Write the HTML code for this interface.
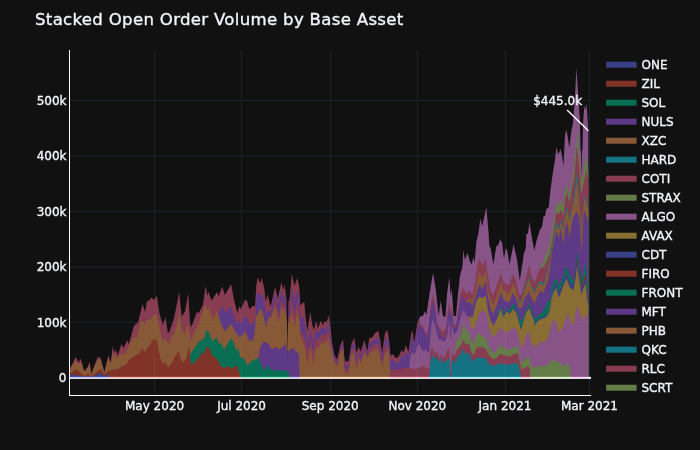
<!DOCTYPE html>
<html><head><meta charset="utf-8"><title>Stacked Open Order Volume by Base Asset</title>
<style>html,body{margin:0;padding:0;background:#111111;}body{width:700px;height:450px;overflow:hidden;}svg{display:block;}text{font-family:"DejaVu Sans","Liberation Sans",sans-serif;fill:#f2f5fa;stroke:#f2f5fa;stroke-width:0.35px;}</style></head><body>
<svg width="700" height="450" viewBox="0 0 700 450">
<rect width="700" height="450" fill="#111111"/>
<defs><clipPath id="sil"><path d="M70.0,379.6L70.0,368.1L72.9,363.1L75.7,357.1L78.6,362.4L80.7,358.6L84.3,371.0L87.9,366.7L89.6,361.4L91.4,374.6L93.6,367.4L97.9,356.7L100.7,358.1L104.3,372.4L108.3,355.3L110.7,362.4L112.9,346.0L114.6,353.1L115.7,349.6L117.9,355.3L121.4,343.9L123.6,348.1L127.1,340.3L128.9,343.9L133.6,326.7L135.7,323.9L137.9,323.1L142.6,304.0L145.0,312.1L147.1,300.7L149.3,300.7L151.1,297.4L154.0,300.0L156.9,295.7L159.3,312.9L162.9,325.0L165.4,317.1L167.9,332.9L169.3,332.1L173.6,320.0L179.3,292.1L181.7,316.4L185.0,311.4L188.3,292.9L190.0,322.9L191.4,327.1L197.1,311.4L198.6,313.6L202.9,305.0L205.7,285.7L207.4,295.7L208.6,291.4L211.4,300.7L217.1,292.1L218.6,296.4L222.1,286.4L225.0,295.0L228.6,288.6L231.1,284.3L234.3,300.7L237.4,312.9L239.3,305.7L240.7,309.3L245.0,300.0L247.1,300.7L249.3,309.3L252.9,305.7L255.0,306.4L256.4,284.3L257.9,277.1L260.0,283.6L261.7,277.9L264.3,288.6L265.7,302.1L267.4,294.3L270.7,306.4L275.0,287.1L277.9,298.6L281.4,282.1L283.1,290.0L284.6,285.0L286.4,298.6L289.3,301.4L291.9,273.6L294.3,285.7L297.4,277.9L299.3,287.1L300.4,305.7L302.1,303.6L304.3,302.1L305.7,318.6L307.4,331.4L310.3,311.4L312.1,324.3L314.0,330.0L316.0,320.7L317.9,328.6L320.7,320.7L322.9,325.0L325.0,320.7L326.4,322.9L328.9,315.0L330.3,325.7L332.1,343.1L334.3,355.3L337.1,359.6L340.7,343.9L343.1,339.6L344.3,357.4L345.7,361.7L348.6,361.0L351.4,343.9L354.3,337.4L356.4,353.1L358.6,346.7L360.7,351.7L364.3,340.3L367.4,351.0L369.3,338.1L372.1,337.4L375.7,332.4L378.3,331.0L380.0,338.9L382.1,353.1L385.0,333.1L387.4,330.0L389.3,341.7L390.7,356.0L392.9,353.9L395.7,358.1L398.6,356.7L401.4,350.3L403.6,352.4L405.7,345.3L408.6,351.7L410.3,338.9L412.1,329.6L414.3,342.4L417.1,324.6L420.0,316.5L422.9,316.0L425.0,311.3L426.4,314.9L429.3,294.9L433.1,272.7L435.7,289.1L438.6,316.0L440.7,300.6L442.9,316.0L445.4,317.0L447.1,293.4L449.3,277.0L450.7,296.3L451.7,288.4L453.6,316.0L456.0,316.0L457.9,294.9L460.0,275.6L462.5,266.3L463.3,250.0L465.0,260.0L467.4,252.9L470.0,261.4L471.5,264.5L473.6,257.1L474.6,262.9L476.4,241.4L478.3,233.6L480.4,218.6L482.1,226.4L486.4,207.1L488.6,232.9L489.3,245.7L490.7,248.6L493.4,264.5L496.4,245.7L497.9,245.7L500.3,239.3L502.1,242.9L504.0,258.6L505.7,248.6L507.1,250.0L509.5,264.0L513.6,244.3L517.1,260.0L519.8,280.5L522.9,260.6L523.6,254.3L525.7,248.6L526.4,234.3L527.9,233.6L529.6,222.5L532.1,239.0L534.4,250.4L536.4,240.9L540.0,229.4L542.1,226.6L543.6,215.9L545.0,215.9L546.4,208.7L548.6,208.0L550.7,188.0L552.9,172.6L555.0,159.5L556.5,147.0L558.2,154.5L560.6,149.0L562.0,156.0L563.5,166.0L565.0,135.0L566.5,129.8L569.4,147.6L571.5,129.8L572.9,124.0L574.8,100.4L576.4,67.9L578.6,100.4L579.2,110.0L580.2,124.0L580.6,150.0L581.5,153.0L582.4,150.0L583.0,124.0L584.3,105.8L585.4,109.8L586.5,103.5L587.9,124.0L588.3,130.8L588.3,379.6 Z"/></clipPath></defs>
<g fill="#1c2229"><rect x="154" y="50" width="1" height="345" /><rect x="241" y="50" width="1" height="345" /><rect x="330" y="50" width="1" height="345" /><rect x="417" y="50" width="1" height="345" /><rect x="505" y="50" width="1" height="345" /><rect x="589" y="50" width="1" height="345" /><rect x="70" y="100.00" width="521" height="1" /><rect x="70" y="155.45" width="521" height="1" /><rect x="70" y="210.90" width="521" height="1" /><rect x="70" y="266.40" width="521" height="1" /><rect x="70" y="321.85" width="521" height="1" /></g>
<g id="lay" stroke="none">
<path fill="#885488" d="M417.1,379.6L417.1,324.6L420.0,316.5L422.9,316.0L425.0,311.3L426.4,314.9L429.3,294.9L433.1,272.7L435.7,289.1L438.6,316.0L440.7,300.6L442.9,316.0L445.4,317.0L447.1,293.4L449.3,277.0L450.7,296.3L451.7,288.4L453.6,316.0L456.0,316.0L457.9,294.9L460.0,275.6L462.5,266.3L463.3,250.0L465.0,260.0L467.4,252.9L470.0,261.4L471.5,264.5L473.6,257.1L474.6,262.9L476.4,241.4L478.3,233.6L480.4,218.6L482.1,226.4L486.4,207.1L488.6,232.9L489.3,245.7L490.7,248.6L493.4,264.5L496.4,245.7L497.9,245.7L500.3,239.3L502.1,242.9L504.0,258.6L505.7,248.6L507.1,250.0L509.5,264.0L513.6,244.3L517.1,260.0L519.8,280.5L522.9,260.6L523.6,254.3L525.7,248.6L526.4,234.3L527.9,233.6L529.6,222.5L532.1,239.0L534.4,250.4L536.4,240.9L540.0,229.4L542.1,226.6L543.6,215.9L545.0,215.9L546.4,208.7L548.6,208.0L550.7,188.0L552.9,172.6L555.0,159.5L556.5,147.0L558.2,154.5L560.6,149.0L562.0,156.0L563.5,166.0L565.0,135.0L566.5,129.8L569.4,147.6L571.5,129.8L572.9,124.0L574.8,100.4L576.4,67.9L578.6,100.4L579.2,110.0L580.2,124.0L580.6,150.0L581.5,153.0L582.4,150.0L583.0,124.0L584.3,105.8L585.4,109.8L586.5,103.5L587.9,124.0L588.3,130.8L588.3,379.6 Z"/>
<path fill="#647c48" d="M539.0,379.6L539.0,270.0L540.0,269.0L541.4,264.9L543.6,262.0L545.0,256.3L547.1,252.0L549.3,245.1L552.0,232.0L555.0,213.7L556.4,200.9L557.9,207.3L560.0,199.4L562.9,206.6L565.0,190.9L566.8,184.0L569.5,196.0L571.5,181.0L573.6,170.0L575.2,153.0L576.5,130.5L578.2,146.0L579.4,153.0L580.3,166.0L581.5,182.0L583.5,173.0L586.3,156.0L588.3,170.0L588.3,379.6 Z"/>
<path fill="#883c52" d="M70.0,379.6L70.0,368.1L72.9,363.1L75.7,357.1L78.6,362.4L80.7,358.6L84.3,371.0L87.9,366.7L89.6,361.4L91.4,374.6L93.6,367.4L97.9,356.7L100.7,358.1L104.3,372.4L108.3,355.3L110.7,362.4L112.9,346.0L114.6,353.1L115.7,349.6L117.9,355.3L121.4,343.9L123.6,348.1L127.1,340.3L128.9,343.9L133.6,326.7L135.7,323.9L137.9,323.1L142.6,304.0L145.0,312.1L147.1,300.7L149.3,300.7L151.1,297.4L154.0,300.0L156.9,295.7L159.3,312.9L162.9,325.0L165.4,317.1L167.9,332.9L169.3,332.1L173.6,320.0L179.3,292.1L181.7,316.4L185.0,311.4L188.3,292.9L190.0,322.9L191.4,327.1L197.1,311.4L198.6,313.6L202.9,305.0L205.7,285.7L207.4,295.7L208.6,291.4L211.4,300.7L217.1,292.1L218.6,296.4L222.1,286.4L225.0,295.0L228.6,288.6L231.1,284.3L234.3,300.7L237.4,312.9L239.3,305.7L240.7,309.3L245.0,300.0L247.1,300.7L249.3,309.3L252.9,305.7L255.0,306.4L256.4,284.3L257.9,277.1L260.0,283.6L261.7,277.9L264.3,288.6L265.7,302.1L267.4,294.3L270.7,306.4L275.0,287.1L277.9,298.6L281.4,282.1L283.1,290.0L284.6,285.0L286.4,298.6L289.3,301.4L291.9,273.6L294.3,285.7L297.4,277.9L299.3,287.1L300.4,305.7L302.1,303.6L304.3,302.1L305.7,318.6L307.4,331.4L310.3,311.4L312.1,324.3L314.0,330.0L316.0,320.7L317.9,328.6L320.7,320.7L322.9,325.0L325.0,320.7L326.4,322.9L328.9,315.0L330.3,325.7L332.1,343.1L334.3,355.3L337.1,359.6L340.7,343.9L343.1,339.6L344.3,357.4L345.7,361.7L348.6,361.0L351.4,343.9L354.3,337.4L356.4,353.1L358.6,346.7L360.7,351.7L364.3,340.3L367.4,351.0L369.3,338.1L372.1,337.4L375.7,332.4L378.3,331.0L380.0,338.9L382.1,353.1L385.0,333.1L387.4,330.0L389.3,341.7L390.7,356.0L392.9,353.9L395.7,358.1L398.6,356.7L401.4,350.3L403.6,352.4L405.7,345.3L408.6,351.7L410.3,338.9L412.1,329.6L414.3,342.4L417.1,324.6L419.5,319.5L420.9,324.4L423.4,326.6L425.1,331.6L426.9,334.4L428.7,327.3L429.5,315.0L431.0,303.0L433.0,293.0L435.0,303.0L436.3,314.0L436.8,322.3L438.7,326.0L441.6,330.5L445.0,330.5L446.5,325.0L447.8,312.0L449.0,299.0L450.3,312.0L451.7,305.0L452.8,316.0L453.6,325.0L456.0,325.0L457.9,312.0L460.0,295.0L463.1,287.3L466.2,293.5L469.3,290.4L472.4,295.1L475.6,281.1L477.1,265.6L479.4,259.3L482.6,265.6L485.7,258.6L488.0,276.4L491.1,292.8L493.4,295.1L497.3,283.4L500.7,273.3L503.5,282.7L506.7,283.4L509.0,285.8L512.9,274.1L516.0,281.1L519.1,295.1L521.4,295.1L525.3,281.1L529.2,264.0L531.5,276.4L534.6,282.7L537.8,273.3L540.0,268.7L541.4,268.0L543.6,267.0L545.7,263.4L547.9,257.7L550.0,252.0L552.0,241.0L555.0,222.3L556.4,210.9L558.6,214.4L560.7,209.4L563.6,215.1L565.0,199.4L567.1,192.3L569.6,203.7L571.4,190.9L574.5,176.0L576.7,146.0L578.5,160.0L579.7,172.0L581.3,195.0L583.0,185.0L584.5,180.0L586.2,169.0L588.3,183.0L588.3,379.6 Z"/>
<path fill="#157282" d="M519.1,379.6L519.1,301.1L521.4,300.3L525.3,285.5L529.2,276.2L531.5,285.5L534.6,291.7L537.8,283.2L541.4,280.9L543.6,284.5L545.7,275.9L547.9,268.8L550.0,256.5L552.1,244.4L555.0,228.3L556.4,222.5L558.6,227.5L560.7,219.7L563.6,228.3L565.0,214.0L567.1,207.5L569.6,219.0L572.9,202.5L575.0,188.0L576.5,173.0L578.6,188.1L580.0,207.4L581.5,232.4L583.0,209.4L584.3,195.4L587.1,202.5L588.3,207.4L588.3,379.6 Z"/>
<path fill="#885936" d="M465.5,379.6L465.5,301.5L466.2,302.3L469.3,298.3L472.4,301.0L475.6,290.4L477.1,279.5L479.4,271.8L482.6,278.8L485.7,269.4L488.0,288.9L491.1,301.3L493.4,304.4L497.3,294.3L500.7,281.9L503.5,290.4L506.7,292.0L509.0,294.3L512.9,283.4L516.0,289.7L519.1,302.9L521.4,302.1L525.3,287.3L529.2,278.0L531.5,287.3L534.6,293.5L537.8,285.0L541.4,282.7L543.6,286.3L545.7,277.7L547.9,270.6L550.0,259.1L552.1,247.0L555.0,230.9L556.4,225.1L558.6,230.1L560.7,222.3L563.6,230.9L565.0,216.6L567.1,210.1L569.6,221.6L572.9,205.1L575.0,195.0L576.5,180.0L578.6,195.1L580.0,210.0L581.5,235.0L583.0,212.0L584.3,198.0L587.1,205.1L588.3,210.0L588.3,379.6 Z"/>
<path fill="#5e3a86" d="M218.3,379.6L218.3,315.0L218.6,312.9L222.1,305.7L225.7,312.9L230.0,306.4L232.1,309.3L234.3,317.1L237.4,324.3L239.3,320.0L241.4,323.6L245.0,315.7L247.9,319.3L250.0,325.0L253.6,322.1L255.4,320.0L256.4,295.7L258.6,291.4L260.7,296.4L262.1,293.6L264.3,303.6L266.0,317.1L267.9,310.0L270.7,312.9L275.0,292.1L277.9,307.1L281.4,289.3L283.1,298.6L284.6,293.6L286.6,307.1L289.3,312.9L292.1,287.1L294.5,302.0L297.5,290.0L299.2,299.5L300.7,318.6L303.6,317.1L305.7,327.1L306.4,334.6L308.3,344.6L310.3,328.9L313.6,344.6L315.7,330.3L317.9,333.1L322.1,327.4L325.7,328.9L328.6,323.1L331.4,340.3L334.3,354.6L337.9,362.4L340.0,358.9L340.5,347.8L341.0,346.4L341.5,345.6L342.0,344.7L342.5,343.9L343.0,343.1L343.5,349.2L344.0,357.0L344.5,362.2L345.0,363.7L345.5,365.1L346.0,365.6L346.5,365.5L347.0,365.3L347.5,365.1L348.0,365.0L348.5,364.8L349.0,362.3L349.5,359.2L350.0,356.1L350.5,353.0L351.0,349.9L351.5,347.3L352.0,346.4L352.5,345.5L353.0,344.6L353.5,343.8L354.0,342.9L354.5,343.9L355.0,347.8L355.5,351.7L356.0,355.6L356.5,358.4L357.0,356.4L357.5,354.5L358.0,352.6L358.5,350.6L359.0,351.3L359.5,352.7L360.0,354.0L360.5,355.4L361.0,355.0L361.5,353.3L362.0,351.7L362.5,350.0L363.0,348.4L363.5,346.7L364.0,345.1L364.5,344.7L365.0,346.2L365.5,347.7L366.0,349.2L366.5,350.6L367.0,352.1L367.5,352.8L368.0,350.2L368.5,347.6L369.0,345.0L369.5,343.3L370.0,342.9L370.5,342.7L371.0,342.5L371.5,342.3L372.0,342.1L372.5,341.5L373.0,340.9L373.5,340.3L374.0,339.7L374.5,339.2L375.0,338.7L375.5,338.3L376.0,338.0L376.5,337.8L377.0,337.6L377.5,337.4L378.0,337.3L378.5,338.4L379.0,340.4L379.5,342.5L380.0,344.5L380.5,347.6L381.0,350.8L381.5,353.9L382.0,357.0L382.5,355.1L383.0,352.0L383.5,349.0L384.0,345.9L384.5,342.8L385.0,339.7L385.5,339.0L386.0,338.4L386.5,337.7L387.0,337.0L387.5,337.0L388.0,339.6L388.5,342.2L389.0,344.8L389.5,349.1L390.0,354.3L390.5,359.5L391.0,361.2L391.5,360.7L392.0,360.3L392.5,359.8L393.0,359.6L393.5,360.3L394.0,361.1L394.5,361.8L395.0,362.6L395.5,363.3L396.0,363.5L396.5,363.2L397.0,363.0L397.5,362.7L398.0,362.5L398.5,362.2L399.0,361.3L399.5,360.1L400.0,359.0L400.5,357.9L401.0,356.7L401.5,355.9L402.0,356.4L402.5,356.9L403.0,357.3L403.5,357.8L404.0,356.5L404.5,354.9L405.0,353.2L405.5,351.5L406.0,351.5L406.5,352.6L407.0,353.7L407.5,354.6L408.0,355.6L408.5,356.6L409.0,353.7L409.5,349.8L410.0,345.9L410.5,342.5L411.0,339.8L411.5,337.2L412.0,334.6L412.5,336.3L413.0,339.2L413.5,342.1L414.0,345.0L414.5,345.4L415.0,342.2L415.5,339.0L416.0,335.8L416.5,332.6L417.0,329.4L417.5,327.6L418.0,326.2L418.5,324.8L419.0,323.3L419.5,323.5L420.9,327.5L423.4,329.3L425.1,333.8L426.9,336.6L428.7,329.5L429.5,318.0L431.0,308.0L433.0,300.0L435.0,309.0L436.3,318.0L436.8,325.0L438.7,329.0L441.6,337.0L445.0,338.0L446.5,329.0L447.8,316.0L449.0,305.0L450.3,318.0L451.7,311.0L452.8,321.0L453.6,328.0L456.0,328.5L457.9,317.0L460.0,301.3L463.1,295.1L466.2,302.9L469.3,301.3L472.4,306.0L475.6,296.7L477.1,290.4L479.4,284.2L482.6,288.9L485.7,280.3L488.0,297.4L491.1,310.7L493.4,313.8L497.3,303.7L500.7,292.0L503.5,299.8L506.7,301.3L509.0,302.9L512.9,292.8L516.0,298.2L519.1,308.3L521.4,308.3L525.3,297.4L529.2,291.2L531.5,298.2L534.6,303.7L537.8,295.1L541.4,290.6L543.6,293.4L545.7,286.3L547.9,280.6L550.0,266.3L552.1,252.0L555.0,236.6L556.4,230.9L558.6,237.3L560.7,228.7L563.6,243.7L565.0,229.4L567.1,221.6L569.6,237.3L572.9,218.0L576.4,211.6L578.6,215.0L580.0,225.0L581.5,255.0L583.0,225.0L584.3,209.4L587.1,218.7L588.3,222.0L588.3,379.6 Z"/>
<path fill="#086e54" d="M497.0,379.6L497.0,318.0L498.1,312.2L500.7,306.0L503.5,313.8L506.7,308.3L509.8,310.0L512.9,302.9L516.0,307.5L519.1,316.9L521.2,322.0L525.3,310.7L529.2,303.7L531.5,310.7L534.6,318.4L537.0,317.0L540.0,314.0L542.9,312.0L547.1,302.7L550.0,299.1L551.4,289.1L553.6,282.0L556.4,278.4L558.6,286.3L561.4,280.6L563.6,274.9L566.0,266.3L570.0,276.3L573.6,280.6L575.4,269.1L577.1,252.0L579.3,267.7L581.4,280.6L583.6,273.4L585.3,262.0L587.1,280.6L588.3,285.0L588.3,379.6 Z"/>
<path fill="#803326" d="M573.6,379.6L573.6,283.7L575.4,272.1L577.1,258.6L579.3,271.9L581.4,285.9L583.6,278.7L585.7,275.1L587.1,290.1L588.3,296.0L588.3,379.6 Z"/>
<path fill="#3a4086" d="M500.7,379.6L500.7,307.5L503.5,315.3L506.7,309.8L509.8,312.2L512.9,307.4L516.0,310.5L518.3,318.3L521.1,328.6L523.8,318.3L526.1,310.5L529.2,306.6L531.5,313.6L533.9,318.3L534.3,324.3L537.0,320.2L541.0,317.2L545.0,316.2L548.0,313.2L550.0,306.4L551.4,295.7L553.6,287.6L556.4,282.2L558.6,292.2L561.4,285.8L563.6,279.4L566.4,272.9L570.0,282.2L573.6,284.4L575.4,273.6L577.1,260.8L579.3,275.1L581.4,289.4L583.6,282.2L585.7,278.6L587.1,293.6L588.3,299.5L588.3,379.6 Z"/>
<path fill="#886e32" d="M468.0,379.6L468.0,318.5L470.0,316.0L472.4,318.0L474.0,312.0L475.6,304.4L477.1,299.8L479.4,296.7L482.6,298.2L485.7,295.1L488.0,310.7L490.3,320.0L493.5,326.0L496.5,320.0L500.7,309.1L503.5,316.9L506.7,311.4L509.8,313.8L512.9,309.1L516.0,312.2L518.3,320.0L521.1,330.3L523.8,320.0L526.1,312.2L529.2,308.3L531.5,315.3L533.9,320.0L534.3,326.0L537.0,322.0L541.0,319.0L545.0,318.0L548.0,315.0L550.0,309.1L551.4,299.1L553.6,292.0L556.4,287.7L558.6,297.7L561.4,291.3L563.6,284.9L566.4,278.4L570.0,287.7L573.6,289.9L575.4,279.1L577.1,266.3L579.3,280.6L581.4,294.9L583.6,287.7L585.7,284.1L587.1,299.1L588.3,305.0L588.3,379.6 Z"/>
<path fill="#885488" d="M409.3,379.6L409.3,368.9L410.0,357.4L412.1,351.7L414.3,355.3L417.1,346.7L419.3,343.9L421.4,349.6L423.6,351.5L425.7,349.5L427.9,352.5L429.3,351.5L430.3,336.0L431.5,325.0L432.6,319.4L435.1,325.0L436.6,332.3L438.7,339.4L440.9,339.6L443.0,341.6L445.1,340.9L446.9,335.9L448.0,328.7L449.1,323.7L449.8,320.0L450.3,338.0L451.1,338.0L451.7,321.0L452.5,327.0L454.3,335.0L457.1,331.0L459.3,323.0L461.0,316.0L463.0,310.0L466.2,315.0L469.3,318.9L471.4,327.4L473.6,329.6L476.4,321.7L477.9,316.0L480.0,312.0L483.0,311.0L486.0,312.0L487.1,316.0L489.3,328.9L492.9,336.7L497.1,333.1L500.0,326.7L503.6,331.0L507.1,332.4L510.7,329.6L513.6,327.4L517.1,330.3L519.3,340.3L521.4,347.4L523.6,343.1L526.4,333.9L529.3,331.7L530.7,341.0L534.3,347.4L537.9,343.9L540.7,341.0L542.9,343.1L545.7,341.0L547.9,337.4L550.0,330.3L552.1,321.7L554.3,319.6L556.4,323.1L558.6,332.4L562.9,327.4L565.0,320.3L567.1,316.0L568.5,314.0L570.0,320.3L573.6,326.0L575.0,316.0L577.0,305.0L579.0,312.0L581.4,317.4L583.6,318.9L585.4,316.0L587.4,314.0L588.3,316.0L588.3,379.6 Z"/>
<path fill="#647c48" d="M455.0,379.6L455.0,351.7L456.4,343.1L458.6,337.4L461.4,334.6L463.6,323.1L465.7,328.9L469.3,333.1L471.4,341.0L473.6,343.9L476.4,335.3L478.6,333.1L482.9,336.7L485.7,337.4L488.6,346.0L492.9,353.9L497.1,350.3L500.0,345.3L504.3,348.1L508.6,350.3L514.3,346.7L517.9,346.0L520.0,358.9L521.4,363.1L526.4,357.4L529.3,356.7L530.7,366.0L535.7,367.4L540.7,365.3L542.9,366.7L547.1,365.3L550.7,361.7L553.6,358.9L556.4,362.4L559.3,361.7L562.9,366.7L566.4,363.1L569.3,366.0L570.7,377.0L570.7,379.6 Z"/>
<path fill="#883c52" d="M268.0,379.6L268.0,318.0L270.7,316.0L273.0,308.0L275.0,300.5L276.0,301.0L278.5,317.0L281.5,300.0L283.0,302.0L284.5,304.0L286.3,314.0L289.5,317.0L292.0,298.0L294.5,314.0L297.5,300.0L299.0,307.0L300.0,322.0L300.7,331.7L303.6,336.0L306.4,343.0L308.3,351.7L310.3,337.4L313.6,352.4L315.7,338.9L317.9,340.0L322.1,333.9L325.7,335.0L328.6,329.6L331.4,344.6L334.3,358.9L337.9,364.8L340.0,361.0L340.5,350.8L341.0,349.5L341.5,348.7L342.0,347.9L342.5,347.1L343.0,346.4L343.5,352.8L344.0,361.0L344.5,366.5L345.0,367.8L345.5,369.2L346.0,369.6L346.5,369.4L347.0,369.2L347.5,369.0L348.0,368.8L348.5,368.6L349.0,366.0L349.5,362.9L350.0,359.7L350.5,356.6L351.0,353.5L351.5,350.8L352.0,350.2L352.5,349.6L353.0,348.9L353.5,348.3L354.0,347.7L354.5,348.9L355.0,353.0L355.5,357.1L356.0,361.2L356.5,364.0L357.0,361.5L357.5,359.1L358.0,356.7L358.5,354.2L359.0,355.0L359.5,356.5L360.0,358.1L360.5,359.6L361.0,359.2L361.5,357.5L362.0,355.7L362.5,354.0L363.0,352.3L363.5,350.6L364.0,348.9L364.5,348.3L365.0,349.6L365.5,350.9L366.0,352.1L366.5,353.4L367.0,354.7L367.5,355.3L368.0,353.5L368.5,351.8L369.0,350.0L369.5,348.6L370.0,347.9L370.5,347.6L371.0,347.3L371.5,347.0L372.0,346.7L372.5,346.2L373.0,345.7L373.5,345.2L374.0,344.7L374.5,344.3L375.0,344.1L375.5,343.8L376.0,343.7L376.5,343.6L377.0,343.5L377.5,343.4L378.0,343.5L378.5,344.8L379.0,346.6L379.5,348.4L380.0,350.2L380.5,353.0L381.0,355.8L381.5,358.7L382.0,361.5L382.5,359.9L383.0,357.2L383.5,354.5L384.0,351.7L384.5,349.0L385.0,346.3L385.5,345.6L386.0,344.9L386.5,344.2L387.0,343.5L387.5,343.4L388.0,345.5L388.5,347.7L389.0,349.8L389.5,354.5L390.0,370.3L394.3,369.6L401.4,369.1L404.3,367.4L410.0,368.1L415.7,369.6L421.4,366.7L424.3,366.0L427.9,368.9L429.5,368.0L430.3,351.7L432.1,346.7L435.0,354.6L437.1,351.0L439.3,358.9L440.7,353.9L442.9,358.1L445.7,354.6L449.3,346.7L450.3,371.7L451.1,371.0L451.7,353.1L454.3,356.0L457.1,348.9L461.4,344.6L463.6,339.6L465.7,344.6L469.3,343.9L471.4,351.7L473.6,355.3L476.4,347.4L481.4,346.7L485.7,348.9L488.6,354.6L492.9,359.6L497.1,357.4L500.0,353.9L504.3,355.3L510.0,356.7L514.3,353.9L517.9,353.1L520.0,363.1L521.4,370.3L526.4,366.7L529.3,366.7L530.3,377.0L530.3,379.6 Z"/>
<path fill="#157282" d="M429.3,379.6L429.3,377.0L430.3,363.1L432.1,354.6L435.0,358.9L437.1,357.4L439.3,362.4L440.7,356.7L442.9,363.1L445.7,361.7L449.3,357.4L450.3,377.0L451.1,377.0L451.7,358.9L454.3,363.1L457.1,357.4L461.4,353.1L463.6,348.9L465.7,353.9L469.3,353.1L471.4,358.9L473.6,361.7L476.4,357.4L481.4,358.1L485.7,358.1L488.6,363.1L492.9,366.0L497.1,364.6L500.0,363.1L504.3,364.6L510.0,364.6L514.3,363.1L517.9,363.9L520.0,371.7L521.0,377.0L521.0,379.6 Z"/>
<path fill="#885936" d="M70.0,379.6L70.0,369.6L75.7,360.3L78.6,364.6L80.7,361.7L84.3,371.7L87.9,367.5L89.6,363.9L91.4,374.8L93.6,368.5L97.9,358.9L100.7,360.3L104.3,372.6L108.3,358.1L110.7,363.3L112.9,351.7L115.7,357.4L117.9,358.1L121.4,353.1L125.0,354.6L127.1,350.3L130.0,344.6L133.6,337.4L136.4,338.1L140.0,324.6L142.6,320.0L145.4,325.0L147.1,318.6L150.0,320.7L153.6,315.0L156.9,314.3L159.3,326.0L162.9,342.4L165.0,337.4L167.1,342.4L170.0,342.4L171.4,336.0L174.3,334.0L177.1,322.9L179.3,312.1L181.7,330.0L185.0,333.9L187.4,323.9L188.9,329.6L190.7,341.7L192.9,335.3L195.7,329.6L199.3,323.1L200.0,318.6L202.9,311.4L205.7,303.6L207.1,310.0L208.6,307.1L212.9,319.3L217.1,310.7L219.3,317.8L221.4,324.8L225.0,331.4L227.1,329.0L230.7,324.0L233.6,328.0L236.4,333.5L240.0,337.4L242.9,334.6L245.7,331.5L249.3,341.7L251.4,338.9L252.9,342.4L255.0,330.3L255.7,317.1L260.7,308.6L262.9,313.6L266.0,327.5L268.6,317.1L270.7,318.6L275.0,307.0L276.0,308.0L278.5,322.5L281.5,306.5L283.0,310.0L284.5,310.0L286.3,318.0L289.5,324.0L292.0,310.0L294.5,327.0L297.5,311.0L299.0,318.0L300.0,330.0L300.7,336.0L303.6,343.1L305.7,352.4L307.4,365.3L310.3,346.0L313.6,365.3L315.7,348.9L317.9,348.1L322.1,342.4L325.7,343.1L328.6,337.4L330.0,348.1L332.1,353.1L334.3,361.7L337.1,366.7L340.7,353.1L343.1,349.6L344.3,370.3L345.7,373.9L348.6,372.4L351.4,354.6L354.3,352.4L356.4,370.3L358.6,357.4L360.7,364.6L364.3,351.7L367.4,358.1L370.0,353.1L374.3,349.6L377.9,349.6L380.0,356.0L382.1,366.7L385.0,353.1L387.4,349.6L389.3,356.0L390.0,370.0L390.0,379.6 Z"/>
<path fill="#5e3a86" d="M258.6,379.6L258.6,358.9L260.0,347.4L263.6,341.7L267.9,343.1L272.1,349.6L275.7,346.7L278.6,349.6L282.9,346.7L285.4,343.9L286.9,351.0L289.3,351.0L292.9,347.4L296.4,351.7L298.9,353.9L299.7,377.0L299.7,379.6 Z"/>
<path fill="#086e54" d="M190.0,379.6L190.0,355.3L192.9,350.3L198.6,341.7L202.1,339.6L204.3,338.9L206.4,330.3L208.6,331.0L211.4,339.6L213.6,341.0L216.4,336.7L218.6,343.1L221.4,343.9L224.3,349.6L227.9,343.1L231.4,338.1L234.3,343.9L236.4,351.0L238.3,348.1L240.0,356.7L244.3,358.9L247.1,365.3L252.9,360.3L257.9,358.1L260.0,361.7L264.3,371.0L267.9,365.3L272.1,371.0L277.1,369.6L281.4,371.0L285.7,370.3L288.6,373.1L290.0,377.0L290.0,379.6 Z"/>
<path fill="#803326" d="M70.0,379.6L70.0,373.1L75.7,369.6L78.6,371.0L84.3,376.0L87.9,373.9L91.4,376.0L97.9,371.0L100.7,368.9L104.3,374.6L108.3,371.0L112.9,369.6L117.1,369.6L121.4,366.7L126.4,364.6L128.6,360.3L133.6,356.7L140.0,353.1L142.1,348.1L144.3,352.4L147.9,346.7L150.0,345.3L152.9,339.6L156.4,338.9L158.3,348.9L160.7,359.6L163.6,364.6L165.4,361.7L167.9,367.4L171.4,363.9L175.0,356.7L178.6,351.0L180.7,358.9L182.9,362.4L186.4,358.9L188.9,345.3L190.0,356.0L191.4,365.3L195.7,361.0L200.7,355.3L202.1,351.7L204.3,353.9L206.4,346.7L209.3,348.1L212.1,355.3L215.0,357.4L217.9,360.3L220.7,366.0L224.3,368.1L227.9,366.0L232.1,368.9L235.7,365.3L237.9,367.4L239.3,373.1L240.7,377.0L240.7,379.6 Z"/>
<path fill="#3a4086" d="M70.0,379.6L70.0,375.3L75.0,374.6L80.0,376.0L85.0,376.6L91.0,376.6L97.0,374.6L100.7,372.9L104.3,376.5L107.4,373.9L109.7,376.8L109.7,379.6 Z"/>
</g>
<path fill="#111111" d="M286.5,296 L287.3,340 L287.5,364 L287.7,340 L288.6,298 Z"/>
<path fill="#111111" d="M580.1,118 L580.8,140 L581.4,175 L581.6,175 L582.2,140 L583.0,118 Z"/>
<g clip-path="url(#sil)" fill="#9fc4ff" opacity="0.06"><rect x="154" y="50" width="1" height="345" /><rect x="241" y="50" width="1" height="345" /><rect x="330" y="50" width="1" height="345" /><rect x="417" y="50" width="1" height="345" /><rect x="505" y="50" width="1" height="345" /><rect x="589" y="50" width="1" height="345" /><rect x="70" y="100.00" width="521" height="1" /><rect x="70" y="155.45" width="521" height="1" /><rect x="70" y="210.90" width="521" height="1" /><rect x="70" y="266.40" width="521" height="1" /><rect x="70" y="321.85" width="521" height="1" /></g>
<rect x="69.5" y="377.9" width="522" height="2.6" fill="#111111"/>
<g fill="#1c2229"><rect x="154" y="378" width="1" height="4"/><rect x="241" y="378" width="1" height="4"/><rect x="330" y="378" width="1" height="4"/><rect x="417" y="378" width="1" height="4"/><rect x="505" y="378" width="1" height="4"/><rect x="589" y="378" width="1" height="4"/></g>
<rect x="70" y="377" width="521" height="1.85" fill="#ffffff"/>
<rect x="588.3" y="376.85" width="2.7" height="1" fill="#ffffff"/>
<rect x="70.0" y="376.85" width="39.7" height="1" fill="#b1b7fd"/>
<rect x="109.7" y="376.85" width="131.0" height="1" fill="#f7aa9d"/>
<rect x="240.7" y="376.85" width="49.3" height="1" fill="#7fe5cb"/>
<rect x="290.0" y="376.85" width="9.7" height="1" fill="#d5b1fd"/>
<rect x="299.7" y="376.85" width="90.3" height="1" fill="#ffd0ad"/>
<rect x="390.0" y="376.85" width="39.3" height="1" fill="#ffb3c9"/>
<rect x="429.3" y="376.85" width="21.0" height="1" fill="#8ce9f9"/>
<rect x="450.3" y="376.85" width="0.8" height="1" fill="#ffb3c9"/>
<rect x="451.1" y="376.85" width="69.9" height="1" fill="#8ce9f9"/>
<rect x="521.0" y="376.85" width="9.3" height="1" fill="#ffb3c9"/>
<rect x="530.3" y="376.85" width="40.4" height="1" fill="#dbf3bf"/>
<rect x="570.7" y="376.85" width="17.6" height="1" fill="#ffcbff"/>
<rect x="69" y="50" width="1" height="346" fill="#ffffff"/>
<rect x="69" y="395" width="522" height="1" fill="#ffffff"/>
<text x="35" y="25" font-size="16.6px" textLength="368.3" lengthAdjust="spacing">Stacked Open Order Volume by Base Asset</text>
<text x="66.5" y="104.8" font-size="12px" text-anchor="end">500k</text>
<text x="66.5" y="160.2" font-size="12px" text-anchor="end">400k</text>
<text x="66.5" y="215.7" font-size="12px" text-anchor="end">300k</text>
<text x="66.5" y="271.2" font-size="12px" text-anchor="end">200k</text>
<text x="66.5" y="326.7" font-size="12px" text-anchor="end">100k</text>
<text x="66.5" y="382.2" font-size="12px" text-anchor="end">0</text>
<text x="154.6" y="410" font-size="12px" text-anchor="middle">May 2020</text>
<text x="241.6" y="410" font-size="12px" text-anchor="middle">Jul 2020</text>
<text x="330.2" y="410" font-size="12px" text-anchor="middle">Sep 2020</text>
<text x="417.3" y="410" font-size="12px" text-anchor="middle">Nov 2020</text>
<text x="505.0" y="410" font-size="12px" text-anchor="middle">Jan 2021</text>
<text x="589.5" y="410" font-size="12px" text-anchor="middle">Mar 2021</text>
<line x1="567.1" y1="110" x2="588.4" y2="130.8" stroke="#ffffff" stroke-width="1.35"/>
<text x="557.7" y="105.4" font-size="12px" text-anchor="middle">$445.0k</text>
<rect x="606.1" y="61.7" width="30.5" height="6" fill="#3a4086"/>
<text x="641.5" y="69.0" font-size="12px">ONE</text>
<rect x="606.1" y="80.7" width="30.5" height="6" fill="#803326"/>
<text x="641.5" y="88.0" font-size="12px">ZIL</text>
<rect x="606.1" y="99.7" width="30.5" height="6" fill="#086e54"/>
<text x="641.5" y="107.0" font-size="12px">SOL</text>
<rect x="606.1" y="118.7" width="30.5" height="6" fill="#5e3a86"/>
<text x="641.5" y="126.0" font-size="12px">NULS</text>
<rect x="606.1" y="137.7" width="30.5" height="6" fill="#885936"/>
<text x="641.5" y="145.0" font-size="12px">XZC</text>
<rect x="606.1" y="156.7" width="30.5" height="6" fill="#157282"/>
<text x="641.5" y="164.0" font-size="12px">HARD</text>
<rect x="606.1" y="175.7" width="30.5" height="6" fill="#883c52"/>
<text x="641.5" y="183.0" font-size="12px">COTI</text>
<rect x="606.1" y="194.7" width="30.5" height="6" fill="#647c48"/>
<text x="641.5" y="202.0" font-size="12px">STRAX</text>
<rect x="606.1" y="213.7" width="30.5" height="6" fill="#885488"/>
<text x="641.5" y="221.0" font-size="12px">ALGO</text>
<rect x="606.1" y="232.7" width="30.5" height="6" fill="#886e32"/>
<text x="641.5" y="240.0" font-size="12px">AVAX</text>
<rect x="606.1" y="251.7" width="30.5" height="6" fill="#3a4086"/>
<text x="641.5" y="259.0" font-size="12px">CDT</text>
<rect x="606.1" y="270.7" width="30.5" height="6" fill="#803326"/>
<text x="641.5" y="278.0" font-size="12px">FIRO</text>
<rect x="606.1" y="289.7" width="30.5" height="6" fill="#086e54"/>
<text x="641.5" y="297.0" font-size="12px">FRONT</text>
<rect x="606.1" y="308.7" width="30.5" height="6" fill="#5e3a86"/>
<text x="641.5" y="316.0" font-size="12px">MFT</text>
<rect x="606.1" y="327.7" width="30.5" height="6" fill="#885936"/>
<text x="641.5" y="335.0" font-size="12px">PHB</text>
<rect x="606.1" y="346.7" width="30.5" height="6" fill="#157282"/>
<text x="641.5" y="354.0" font-size="12px">QKC</text>
<rect x="606.1" y="365.7" width="30.5" height="6" fill="#883c52"/>
<text x="641.5" y="373.0" font-size="12px">RLC</text>
<rect x="606.1" y="384.7" width="30.5" height="6" fill="#647c48"/>
<text x="641.5" y="392.0" font-size="12px">SCRT</text>
</svg></body></html>
